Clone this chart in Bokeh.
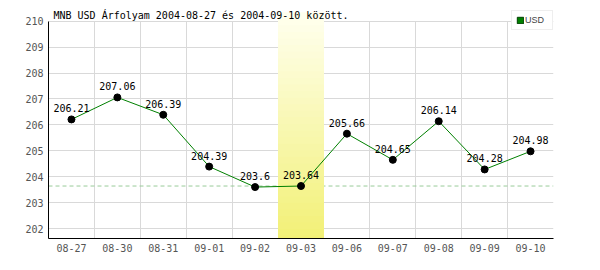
from bokeh.plotting import figure
from bokeh.models import (FactorRange, Range1d, FixedTicker, Span, BoxAnnotation,
                          Legend, LegendItem, ColumnDataSource, Label)
from bokeh.core.properties import value
from bokeh.embed import file_html
from bokeh.resources import INLINE

# ---- data ----
currency = "USD"
dates = ["08-27", "08-30", "08-31", "09-01", "09-02", "09-03",
         "09-06", "09-07", "09-08", "09-09", "09-10"]
rates = [206.21, 207.06, 206.39, 204.39, 203.6, 203.64,
         205.66, 204.65, 206.14, 204.28, 204.98]
highlight_date = "09-03"
y_ticks = [202, 203, 204, 205, 206, 207, 208, 209, 210]
title_text = "MNB USD Árfolyam 2004-08-27 és 2004-09-10 között."

MONO = "DejaVu Sans Mono"
SANS = "Liberation Sans"

y_lo, y_hi = 201.615, 210.0      # visible value axis
y_top = 210.8                    # headroom for title / legend

src = ColumnDataSource(dict(date=dates, rate=rates, label=[f"{v:g}" for v in rates]))

p = figure(width=600, height=270,
           x_range=FactorRange(*dates), y_range=Range1d(y_lo, y_top),
           output_backend="svg", toolbar_location=None,
           min_border_left=48, min_border_right=47,
           min_border_top=0, min_border_bottom=32)
p.outline_line_color = None
p.background_fill_color = "white"
p.border_fill_color = "white"

# grids
p.xgrid.ticker = FixedTicker(ticks=list(range(1, len(dates) + 1)))
p.xgrid.cross_bounds = (y_lo, y_hi)
p.ygrid.ticker = FixedTicker(ticks=y_ticks)
for g in (p.xgrid[0], p.ygrid[0]):
    g.grid_line_color = "#d9d9d9"
    g.grid_line_width = 1

# axes
p.yaxis.ticker = FixedTicker(ticks=y_ticks)
p.yaxis.bounds = (y_lo, y_hi)
for ax in (p.xaxis[0], p.yaxis[0]):
    ax.axis_line_color = "black"
    ax.axis_line_width = 1
    ax.major_tick_line_color = None
    ax.minor_tick_line_color = None
    ax.major_tick_in = 0
    ax.major_tick_out = 0
    ax.minor_tick_in = 0
    ax.minor_tick_out = 0
    ax.major_label_text_font = MONO
    ax.major_label_text_font_size = "10px"
    ax.major_label_text_color = "#555555"
p.yaxis.major_label_standoff = 5
p.xaxis.major_label_standoff = 5
p.xaxis.level = "overlay"

# reference dashed line at the highlighted day's rate
hi = dates.index(highlight_date)
p.add_layout(Span(location=rates[hi], dimension="width", line_color="#99cc99",
                  line_dash="4 3", line_width=1, level="underlay"))

# highlighted day band with vertical gradient
band_top, band_bottom = 210.35, 200.2
n = 40
top_rgb = (255, 255, 238)
bot_rgb = (240, 238, 100)
for k in range(n):
    t = k / (n - 1)
    c = tuple(round(a + (b - a) * t) for a, b in zip(top_rgb, bot_rgb))
    top = band_top - (band_top - band_bottom) * k / n
    p.add_layout(BoxAnnotation(left=hi, right=hi + 1, top=top, bottom=band_bottom,
                               fill_color="#%02x%02x%02x" % c, fill_alpha=1,
                               line_color=None))

# title
p.add_layout(Label(x=0, y=y_hi, x_offset=5, text=title_text,
                   text_font=MONO, text_font_size="10px", text_color="black",
                   text_align="left", text_baseline="bottom", level="overlay"))

# series
p.line(x="date", y="rate", source=src, line_color="#008000", line_width=1, level="overlay")
p.scatter(x="date", y="rate", source=src, size=7, fill_color="black",
          line_color="black", level="overlay")
p.text(x="date", y="rate", text="label", source=src, text_font=value(MONO),
       text_font_size="10px", text_align="center", text_baseline="alphabetic",
       y_offset=-11, text_color="black", level="overlay")

# legend proxy (not drawn in the plot, only its swatch in the legend)
sq = p.vbar(x="date", top="rate", bottom=y_lo, width=0.5, source=src,
            fill_color="#008000", line_color="#004000", visible=False)
legend = Legend(items=[LegendItem(label=currency, renderers=[sq])],
                location=(463, 208), orientation="vertical",
                padding=4, spacing=0, margin=0,
                glyph_width=8, glyph_height=8, label_standoff=1,
                label_width=23, label_height=10,
                label_text_font=SANS, label_text_font_size="9px",
                label_text_color="#444444",
                border_line_color="#dddddd", border_line_width=1,
                background_fill_color="white", background_fill_alpha=1)
p.add_layout(legend)

open("out.html", "w").write(file_html(p, INLINE))
